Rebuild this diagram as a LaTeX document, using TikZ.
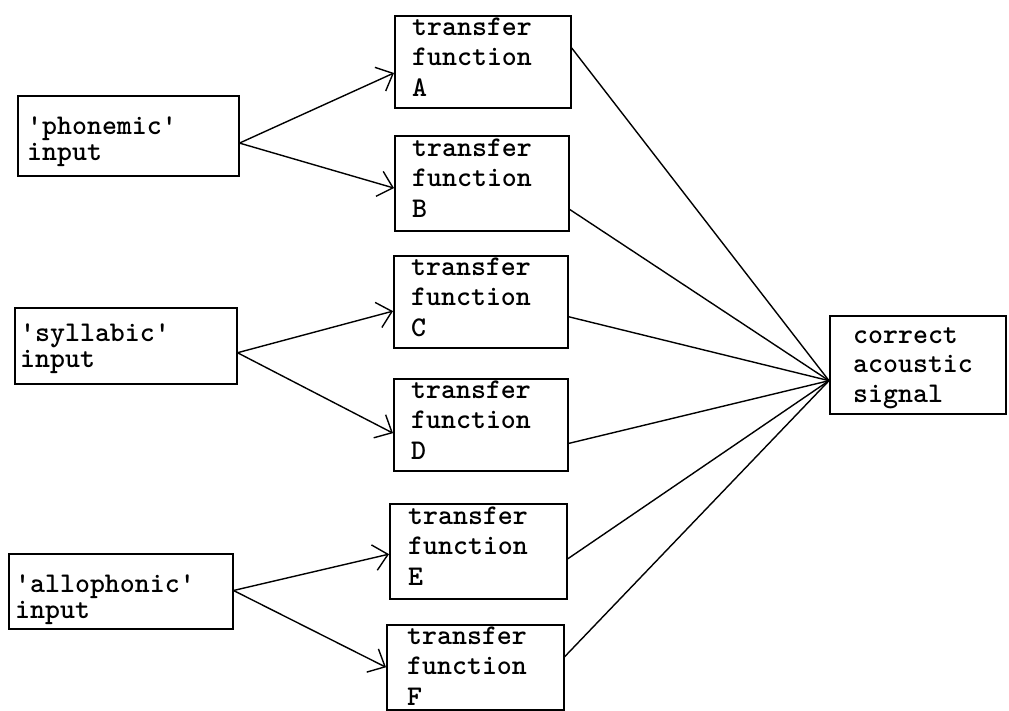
\documentclass[tikz,border=0pt]{standalone}
\usetikzlibrary{arrows.meta,calc}
\begin{document}
\begin{tikzpicture}[x=1pt,y=-1pt,
  box/.style={draw, line width=1.5pt, rectangle, inner sep=0pt, anchor=north west},
  typed/.style={anchor=north west, inner sep=0pt, align=left,
    font=\ttfamily\bfseries\fontsize{28.5pt}{30.5pt}\selectfont},
  feed/.style={line width=1.4pt, -{Straight Barb[length=14pt,width=26pt,line width=1.4pt]}},
  link/.style={line width=1.4pt}]
\useasboundingbox (0,0) rectangle (1009,710);

% input boxes
\node[box, minimum width=221pt, minimum height=80pt] (phon) at (17,95) {};
\node[typed, font=\ttfamily\bfseries\fontsize{28.5pt}{26pt}\selectfont] (phonT) at (27,114)
  {\rule{0pt}{20pt}\textquotesingle phonemic\textquotesingle\\input};
\node[box, minimum width=222pt, minimum height=76pt] (syll) at (14,307) {};
\node[typed, font=\ttfamily\bfseries\fontsize{28.5pt}{26pt}\selectfont] (syllT) at (20,321)
  {\rule{0pt}{20pt}\textquotesingle syllabic\textquotesingle\\input};
\node[box, minimum width=224pt, minimum height=75pt] (allo) at (8,553) {};
\node[typed, font=\ttfamily\bfseries\fontsize{28.5pt}{26pt}\selectfont] (alloT) at (15,572)
  {\rule{0pt}{20pt}\textquotesingle allophonic\textquotesingle\\input};

% transfer function boxes
\node[box, minimum width=176pt, minimum height=92pt] (A) at (394,15) {};
\node[typed] (AT) at (412,15) {\rule{0pt}{20pt}transfer\\function\\A};
\node[box, minimum width=174pt, minimum height=95pt] (B) at (394,135) {};
\node[typed] (BT) at (412,136) {\rule{0pt}{20pt}transfer\\function\\B};
\node[box, minimum width=174pt, minimum height=92pt] (C) at (393,255) {};
\node[typed] (CT) at (411,255) {\rule{0pt}{20pt}transfer\\function\\C};
\node[box, minimum width=174pt, minimum height=92pt] (D) at (393,378) {};
\node[typed] (DT) at (411,378) {\rule{0pt}{20pt}transfer\\function\\D};
\node[box, minimum width=177pt, minimum height=95pt] (E) at (389,503) {};
\node[typed] (ET) at (408,504) {\rule{0pt}{20pt}transfer\\function\\E};
\node[box, minimum width=177pt, minimum height=85pt] (F) at (386,624) {};
\node[typed] (FT) at (407,624) {\rule{0pt}{20pt}transfer\\function\\F};

% output box
\node[box, minimum width=176pt, minimum height=98pt] (out) at (829,315) {};
\node[typed, font=\ttfamily\bfseries\fontsize{28.5pt}{29.5pt}\selectfont] (outT) at (853,323)
  {\rule{0pt}{20pt}correct\\acoustic\\signal};

% branching arrows from each input
\draw[feed] ($(phon.north east)!0.59!(phon.south east)$) -- ($(A.north west)!0.62!(A.south west)$);
\draw[feed] ($(phon.north east)!0.59!(phon.south east)$) -- ($(B.north west)!0.55!(B.south west)$);
\draw[feed] ($(syll.north east)!0.59!(syll.south east)$) -- ($(C.north west)!0.6!(C.south west)$);
\draw[feed] ($(syll.north east)!0.59!(syll.south east)$) -- ($(D.north west)!0.59!(D.south west)$);
\draw[feed] ($(allo.north east)!0.49!(allo.south east)$) -- ($(E.north west)!0.53!(E.south west)$);
\draw[feed] ($(allo.north east)!0.49!(allo.south east)$) -- ($(F.north west)!0.5!(F.south west)$);

% all transfer functions converge on the output
\coordinate (sink) at ($(out.north west)!0.66!(out.south west)$);
\draw[link] ($(A.north east)!0.35!(A.south east)$) -- (sink);
\draw[link] ($(B.north east)!0.77!(B.south east)$) -- (sink);
\draw[link] ($(C.north east)!0.66!(C.south east)$) -- (sink);
\draw[link] ($(D.north east)!0.7!(D.south east)$) -- (sink);
\draw[link] ($(E.north east)!0.58!(E.south east)$) -- (sink);
\draw[link] ($(F.north east)!0.38!(F.south east)$) -- (sink);
\end{tikzpicture}
\end{document}
